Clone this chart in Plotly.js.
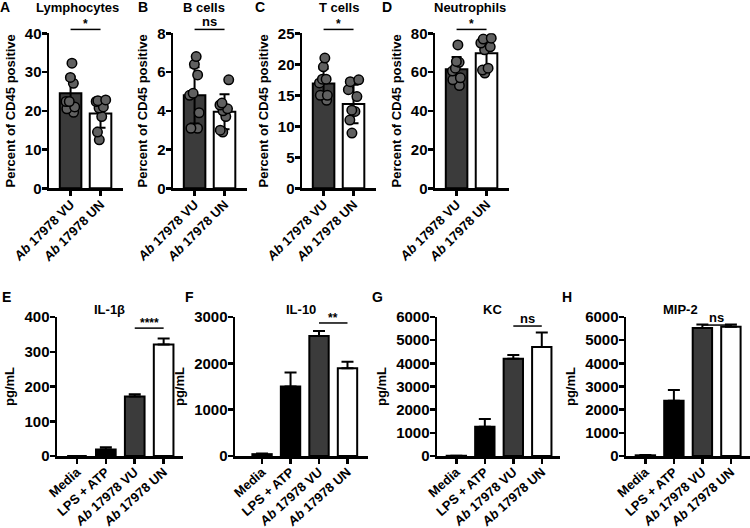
<!DOCTYPE html>
<html>
<head>
<meta charset="utf-8">
<script src="https://cdn.plot.ly/plotly-3.0.1.min.js"></script>
<style>html,body{margin:0;padding:0;background:#fff;}#chart{width:750px;height:528px;}</style>
</head>
<body>
<div id="chart"></div>
<script>
// ---------- DATA ----------
const topCats = ['<i>Ab</i> 17978 VU', '<i>Ab</i> 17978 UN'];
const botCats = ['Media', 'LPS + ATP', '<i>Ab</i> 17978 VU', '<i>Ab</i> 17978 UN'];

// A  Lymphocytes
const lymphVU = [32.3, 28.6, 27.1, 22.4, 22.4, 21.0, 20.5, 19.6];
const lymphUN = [22.6, 22.8, 22.4, 21.0, 20.7, 18.5, 14.5, 12.5];
const lymphMean = [24.5, 19.3];
const lymphSD = [4.3, 3.7];
// B  B cells
const bcellVU = [6.8, 6.4, 5.85, 4.9, 4.8, 3.9, 3.1, 3.1];
const bcellUN = [5.6, 4.4, 4.3, 4.1, 4.0, 3.7, 2.9, 3.0];
const bcellMean = [4.8, 3.95];
const bcellSD = [1.45, 0.9];
// C  T cells
const tcellVU = [21.0, 19.6, 17.6, 17.6, 17.0, 15.0, 15.0, 14.2];
const tcellUN = [17.5, 17.2, 15.9, 14.8, 12.6, 12.4, 11.0, 8.9];
const tcellMean = [16.9, 13.6];
const tcellSD = [2.4, 3.1];
// D  Neutrophils
const neutVU = [74.0, 65.5, 65.0, 62.0, 60.5, 57.0, 56.0, 53.0];
const neutUN = [77.5, 77.0, 75.0, 73.0, 71.5, 62.0, 61.0, 59.5];
const neutMean = [61.5, 69.7];
const neutSD = [6.3, 7.5];

// E-H cytokines (pg/mL), mean and upper error
const il1bMean = [0, 19, 171, 321];
const il1bErr  = [0, 6, 7, 17];
const il10Mean = [40, 1500, 2590, 1895];
const il10Err  = [15, 300, 110, 140];
const kcMean   = [10, 1265, 4200, 4700];
const kcErr    = [5, 330, 160, 630];
const mip2Mean = [30, 2385, 5520, 5580];
const mip2Err  = [10, 460, 160, 100];

// significance labels
const sigTop = ['*', 'ns', '*', '*'];
const sigBot = ['****', '**', 'ns', 'ns'];

// ---------- LAYOUT HELPERS ----------
const W = 750, H = 528;
const FONT = 'Liberation Sans, Arial, Helvetica, sans-serif';
const px = p => p / W;
const py = p => 1 - p / H;
const DARK = '#3b3b3b';

const topPanels = [
  {letter:'A', title:'Lymphocytes', vu:lymphVU, un:lymphUN, mean:lymphMean, sd:lymphSD, ymax:40, dtick:10, dom:[49,123], titleX:77,  letterX:5,   sig:sigTop[0]},
  {letter:'B', title:'B cells',     vu:bcellVU, un:bcellUN, mean:bcellMean, sd:bcellSD, ymax:8,  dtick:2,  dom:[173,247], titleX:204, letterX:143, sig:sigTop[1]},
  {letter:'C', title:'T cells',     vu:tcellVU, un:tcellUN, mean:tcellMean, sd:tcellSD, ymax:25, dtick:5,  dom:[302,376], titleX:339, letterX:260, sig:sigTop[2]},
  {letter:'D', title:'Neutrophils', vu:neutVU,  un:neutUN,  mean:neutMean,  sd:neutSD,  ymax:80, dtick:20, dom:[435,509], titleX:470, letterX:387, sig:sigTop[3]}
];
const botPanels = [
  {letter:'E', title:'IL-1β', mean:il1bMean, err:il1bErr, ymax:400,  dtick:100,  dom:[57,183],  xr:[-0.69,3.67], titleX:109, letterX:6,   sig:sigBot[0], sigY:0.92},
  {letter:'F', title:'IL-10', mean:il10Mean, err:il10Err, ymax:3000, dtick:1000, dom:[235,368], xr:[-0.95,3.72], titleX:301, letterX:189, sig:sigBot[1], sigY:0.957},
  {letter:'G', title:'KC',    mean:kcMean,   err:kcErr,   ymax:6000, dtick:1000, dom:[437,560], xr:[-0.68,3.64], titleX:492, letterX:377, sig:sigBot[2], sigY:0.935},
  {letter:'H', title:'MIP-2', mean:mip2Mean, err:mip2Err, ymax:6000, dtick:1000, dom:[626,750], xr:[-0.68,3.67], titleX:680, letterX:567, sig:sigBot[3], sigY:0.942}
];

const traces = [];
const layout = {
  width: W, height: H,
  margin: {l:0, r:0, t:0, b:0},
  paper_bgcolor: '#fff', plot_bgcolor: 'rgba(0,0,0,0)',
  showlegend: false,
  font: {family: FONT, color: '#000'},
  annotations: [], shapes: []
};

function axisStyle() {
  return {
    showline: true, linewidth: 2.5, linecolor: '#000',
    ticks: 'outside', ticklen: 5, tickwidth: 2.5, tickcolor: '#000',
    showgrid: false, zeroline: false, fixedrange: true
  };
}
function tfont(size) { return {family: FONT, size: size, weight: 700, color: '#000'}; }

function addPanel(i, p, cats, colors, isTop, rowTop, rowBot, yTitle, letterY, titleY) {
  const xa = 'x' + i, ya = 'y' + i;
  const xk = 'xaxis' + i, yk = 'yaxis' + i;
  const barW = isTop ? 0.72 : 0.68;
  const err = isTop
    ? {type:'data', array:p.sd, visible:true, color:'#000', thickness:2, width:5}
    : {type:'data', symmetric:false, array:p.err, arrayminus:p.err.map(() => 0), visible:true, color:'#000', thickness:2, width:6};
  traces.push({
    type:'bar', x:cats, y:p.mean, width:barW, xaxis:xa, yaxis:ya,
    marker:{color:colors, line:{color:'#000', width:2}},
    error_y: err, hoverinfo:'x+y'
  });
  if (isTop) {
    const xs = p.vu.map(() => cats[0]).concat(p.un.map(() => cats[1]));
    const ys = p.vu.concat(p.un);
    traces.push({
      type:'box', x:xs, y:ys, xaxis:xa, yaxis:ya,
      boxpoints:'all', jitter:0.65, pointpos:0, width:0.6,
      fillcolor:'rgba(0,0,0,0)', line:{width:0, color:'rgba(0,0,0,0)'}, whiskerwidth:0,
      marker:{color:'#606060', size:9.5, line:{color:'#000', width:1.5}},
      hoveron:'points'
    });
  }
  layout[xk] = Object.assign(axisStyle(), {
    domain:[px(p.dom[0]), px(p.dom[1])], anchor:ya, type:'category',
    categoryorder:'array', categoryarray:cats,
    range: isTop ? [-0.72, 1.75] : p.xr,
    tickangle: isTop ? -45 : -42, tickfont:tfont(13), ticklabelstandoff:-4
  });
  layout[yk] = Object.assign(axisStyle(), {
    domain:[py(rowBot), py(rowTop)], anchor:xa,
    range:[0, p.ymax], tick0:0, dtick:p.dtick,
    tickfont:tfont(15), ticklabelstandoff:-3,
    title:{text:yTitle, font:tfont(13), standoff:7}
  });
  // panel letter and title
  layout.annotations.push({xref:'paper', yref:'paper', x:px(p.letterX), y:py(letterY), text:'<b>'+p.letter+'</b>',
    showarrow:false, xanchor:'center', yanchor:'middle', font:{family:FONT, size:14, color:'#000'}});
  layout.annotations.push({xref:'paper', yref:'paper', x:px(p.titleX), y:py(titleY), text:'<b>'+p.title+'</b>',
    showarrow:false, xanchor:'center', yanchor:'middle', font:{family:FONT, size:13, color:'#000'}});
  // significance bar
  const i0 = isTop ? 0 : 2, i1 = isTop ? 1 : 3;
  const sy = isTop ? 1.025 : p.sigY;
  layout.shapes.push({type:'line', xref:xa, yref:ya + ' domain', x0:i0, x1:i1, y0:sy, y1:sy,
    line:{color:'#000', width:1.5}});
  const isNs = p.sig === 'ns';
  layout.annotations.push({xref:xa, yref:ya + ' domain', x:(i0 + i1) / 2, y:sy, text:'<b>'+p.sig+'</b>',
    showarrow:false, xanchor:'center', yanchor:'bottom', yshift: isNs ? -1 : -3, borderpad:0,
    font:{family:FONT, size: isNs ? 13 : 12, color:'#000'}});
}

topPanels.forEach((p, k) => {
  addPanel(k + 1, p, topCats, [DARK, '#ffffff'], true, 33.3, 188.3, 'Percent of CD45 positive', 7, 7);
});
botPanels.forEach((p, k) => {
  addPanel(k + 5, p, botCats, ['#000000', '#000000', DARK, '#ffffff'], false, 317, 456, 'pg/mL', 297, 309);
});

Plotly.newPlot('chart', traces, layout, {displayModeBar:false, staticPlot:true});
</script>
</body>
</html>
